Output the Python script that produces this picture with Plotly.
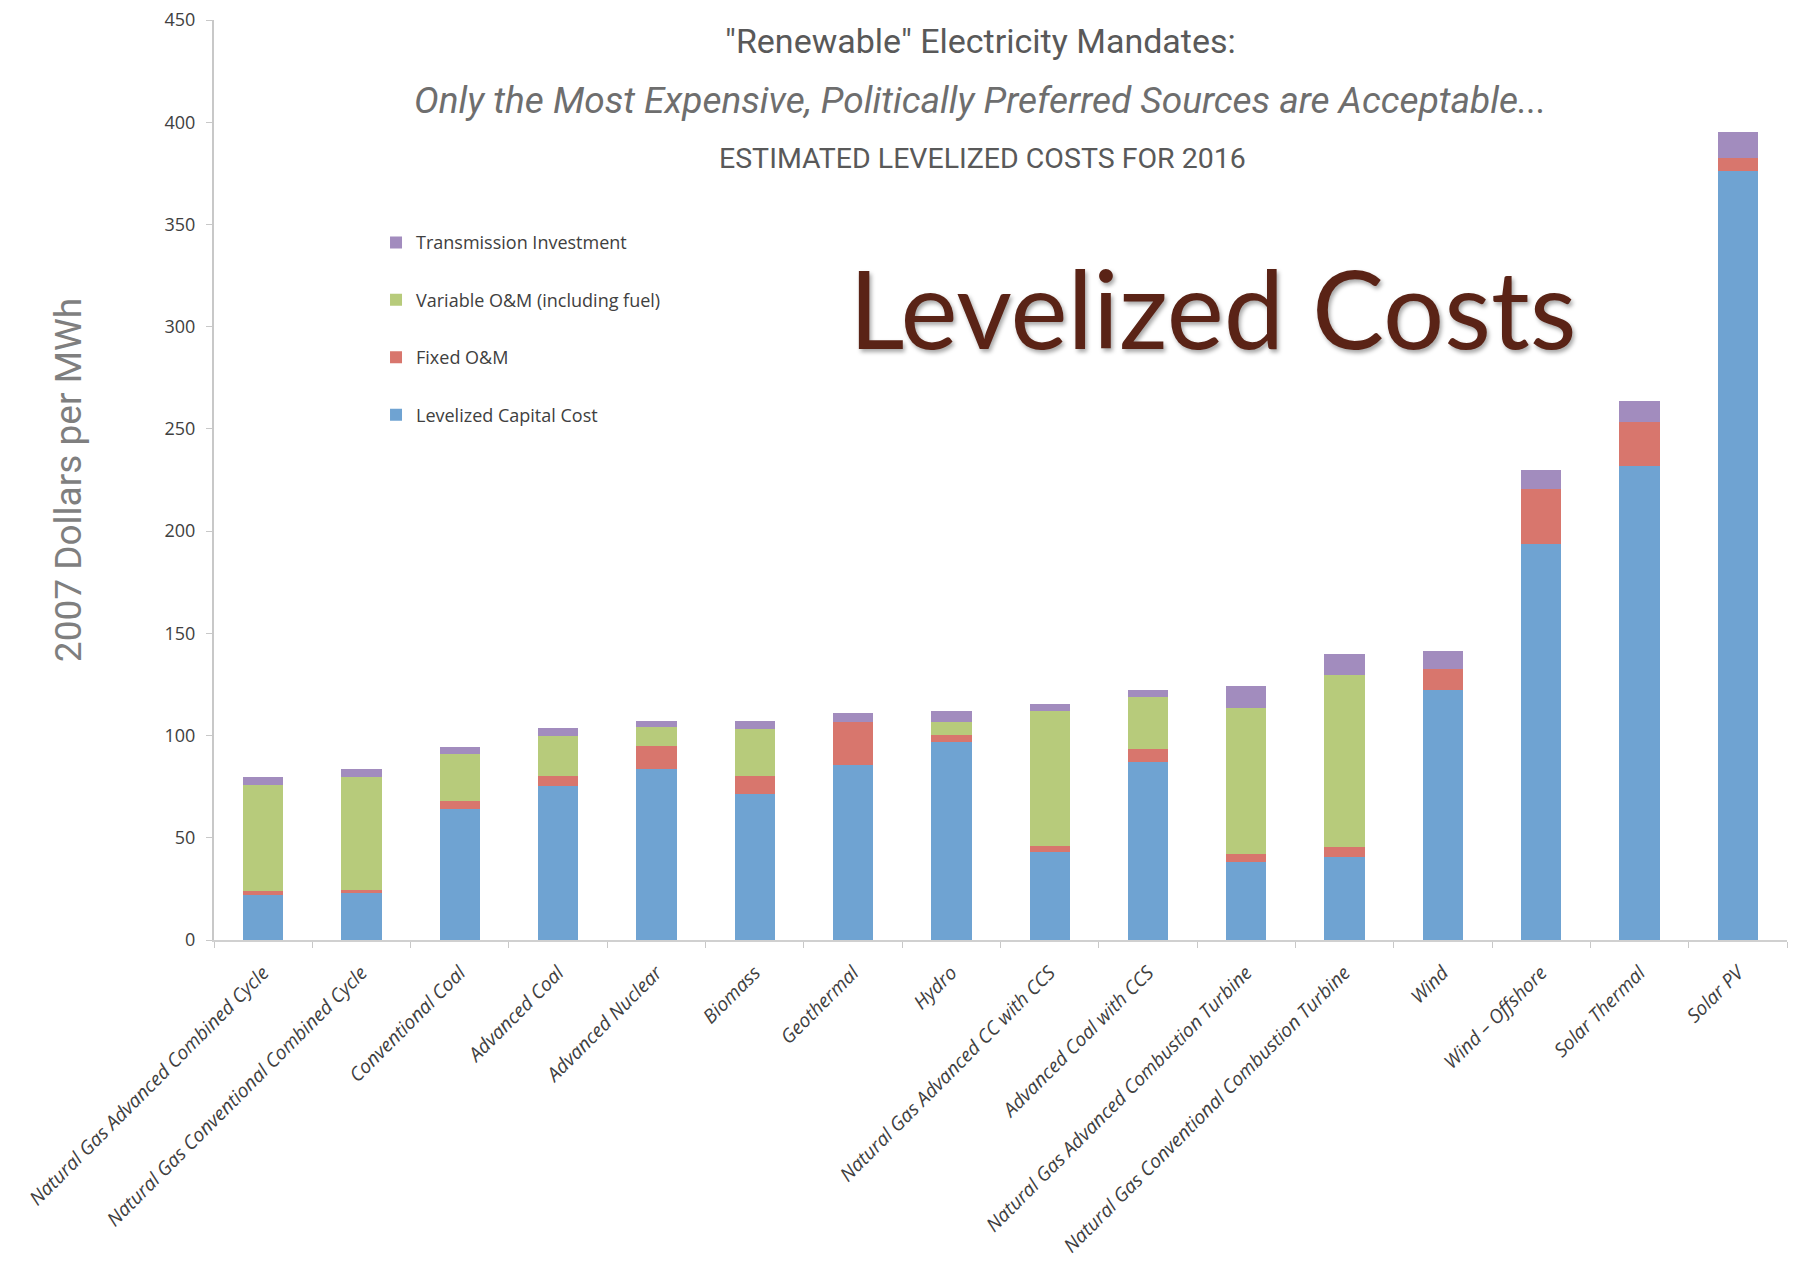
import plotly.graph_objects as go

categories = [
    "Natural Gas Advanced Combined Cycle",
    "Natural Gas Conventional Combined Cycle",
    "Conventional Coal",
    "Advanced Coal",
    "Advanced Nuclear",
    "Biomass",
    "Geothermal",
    "Hydro",
    "Natural Gas Advanced CC with CCS",
    "Advanced Coal with CCS",
    "Natural Gas Advanced Combustion Turbine",
    "Natural Gas Conventional Combustion Turbine",
    "Wind",
    "Wind – Offshore",
    "Solar Thermal",
    "Solar PV",
]

capital = [22.0, 22.8, 64.1, 75.2, 83.8, 71.5, 85.6, 96.7, 43.1, 87.3, 38.2, 40.8, 122.5, 193.8, 231.8, 376.3]
fixed_om = [1.8, 1.7, 3.8, 5.2, 11.3, 8.9, 20.9, 3.6, 2.7, 6.2, 3.8, 4.5, 10.2, 27.0, 21.5, 6.2]
variable_om = [52.1, 55.4, 23.1, 19.6, 9.1, 23.0, 0.0, 6.2, 66.1, 25.3, 71.6, 84.1, 0.0, 0.0, 0.0, 0.0]
transmission = [3.7, 3.8, 3.6, 3.6, 3.0, 3.9, 4.6, 5.4, 3.6, 3.7, 10.6, 10.6, 8.6, 8.9, 10.1, 12.9]

series_names = [
    "Levelized Capital Cost",
    "Fixed O&M",
    "Variable O&M (including fuel)",
    "Transmission Investment",
]
series_values = [capital, fixed_om, variable_om, transmission]
series_colors = ["#6FA3D2", "#D8766D", "#B7CB7B", "#A28CBE"]

fig = go.Figure()
for i, (name, vals, col) in enumerate(zip(series_names, series_values, series_colors)):
    fig.add_trace(go.Bar(
        x=categories, y=vals, name=name, legendgroup=name,
        legendrank=1000 - i,
        marker=dict(color=col, line=dict(width=0)),
    ))

fig.update_layout(
    width=1794, height=1267,
    barmode="stack", bargap=0.59,
    plot_bgcolor="white", paper_bgcolor="white",
    margin=dict(l=214, r=7, t=20, b=327, autoexpand=False),
    font=dict(family="Open Sans, Lato, sans-serif", color="#404040"),
    showlegend=True,
    legend=dict(
        x=0.103, y=0.778, xanchor="left", yanchor="top",
        traceorder="grouped", tracegroupgap=31,
        font=dict(size=18, color="#404040", family="Open Sans, sans-serif"),
        bgcolor="rgba(0,0,0,0)", itemwidth=30,
    ),
    xaxis=dict(
        type="category", tickson="boundaries", ticks="outside", ticklen=6,
        tickcolor="#C8C8C8", showline=True, linecolor="#D0D0D0", linewidth=2,
        tickangle=-45, automargin=False, ticklabelstandoff=12,
        tickfont=dict(size=19.2, style="italic", color="#404040", family="Open Sans, sans-serif"),
        showgrid=False,
    ),
    yaxis=dict(
        range=[0, 450], dtick=50, ticks="outside", ticklen=6, tickcolor="#C8C8C8",
        showline=True, linecolor="#C8C8C8", linewidth=2, showgrid=False, zeroline=False,
        tickfont=dict(size=18, color="#404040"), automargin=False, ticklabelstandoff=7,
        title=dict(text="2007 Dollars per MWh", standoff=72,
                   font=dict(size=37, color="#7F7F7F",
                             family="Roboto, sans-serif")),
    ),
)

narrow = "Roboto, sans-serif"
fig.add_annotation(text="\"Renewable\" Electricity Mandates:", xref="paper", yref="paper",
                   x=(980 - 214) / 1573, y=(940 - 41) / 920, showarrow=False,
                   xanchor="center", yanchor="middle",
                   font=dict(size=34, color="#595959", family=narrow))
fig.add_annotation(text="Only the Most Expensive, Politically Preferred Sources are Acceptable...",
                   xref="paper", yref="paper",
                   x=(980 - 214) / 1573, y=(940 - 101) / 920, showarrow=False,
                   xanchor="center", yanchor="middle",
                   font=dict(size=37, color="#6E6E6E", family=narrow, style="italic"))
fig.add_annotation(text="ESTIMATED LEVELIZED COSTS FOR 2016", xref="paper", yref="paper",
                   x=(982 - 214) / 1573, y=(940 - 159) / 920, showarrow=False,
                   xanchor="center", yanchor="middle",
                   font=dict(size=28.5, color="#595959", family=narrow))
fig.add_annotation(text="Levelized Costs", xref="paper", yref="paper",
                   x=(1213 - 214) / 1573, y=(940 - 307) / 920, showarrow=False,
                   xanchor="center", yanchor="middle",
                   font=dict(size=108, color="#5A2316", family="Lato, sans-serif",
                             shadow="2px 3px 4px rgba(0,0,0,0.35)"))

fig.write_html("out.html")
